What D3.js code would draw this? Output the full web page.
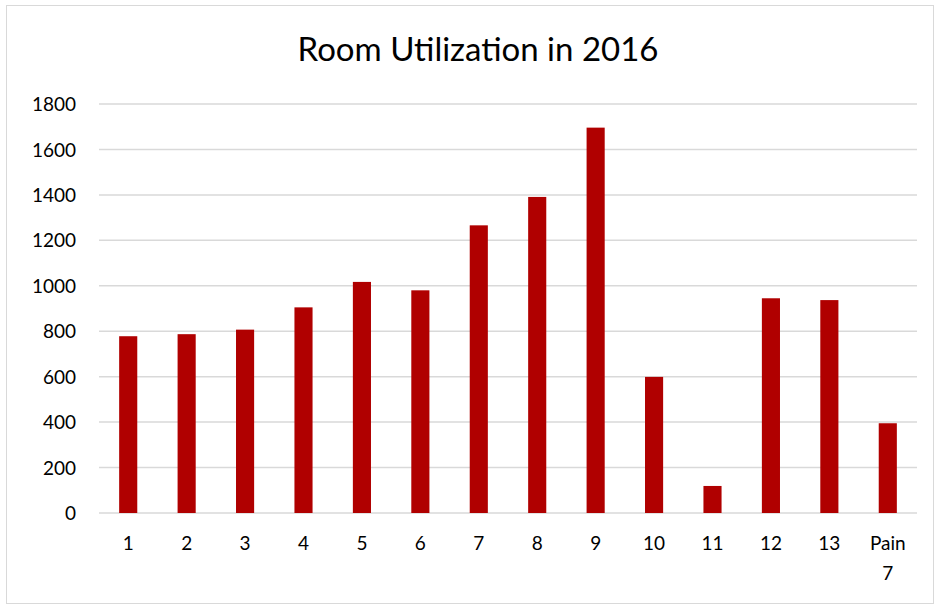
<!DOCTYPE html>
<html lang="en">
<head>
    <meta charset="UTF-8">
    <title>Room Utilization in 2016</title>
    <script src="https://d3js.org/d3.v7.min.js"></script>
    <style>
        body { margin: 0; background: #fff; }
        text { font-family: Lato, "Open Sans", sans-serif; fill: #000; }
    </style>
</head>
<body>
    <script>
       // Chart data
       var rooms = ["1", "2", "3", "4", "5", "6", "7", "8", "9", "10", "11", "12", "13", "Pain 7"];
       var usage = [778, 787, 807, 905, 1017, 980, 1266, 1391, 1696, 599, 119, 945, 937, 395];
       var yTicks = [0, 200, 400, 600, 800, 1000, 1200, 1400, 1600, 1800];

       var data = rooms.map(function(r, i) { return {room: r, value: usage[i]}; });

       var W = 935, H = 605;
       var margin = {top: 104, right: 18, bottom: 92, left: 99},
           width = W - margin.left - margin.right,
           height = H - margin.top - margin.bottom;

       var svg = d3.select("body").append("svg")
           .attr("width", W)
           .attr("height", H);

       // chart border
       svg.append("rect")
           .attr("x", 6.5).attr("y", 5.5)
           .attr("width", 927).attr("height", 598)
           .attr("fill", "none")
           .attr("stroke", "#d9d9d9")
           .attr("stroke-width", 1);

       // Title
       svg.append("text")
           .attr("x", 478)
           .attr("y", 61)
           .attr("text-anchor", "middle")
           .style("font-size", "33px")
           .text("Room Utilization in 2016");

       var g = svg.append("g")
           .attr("transform", "translate(" + margin.left + "," + margin.top + ")");

       var x = d3.scaleBand().domain(rooms).range([0, width]).paddingInner(0.69).paddingOuter(0.345);
       var y = d3.scaleLinear().domain([0, 1800]).range([height, 0]);

       // Gridlines
       g.append("g")
           .selectAll("line")
           .data(yTicks)
           .enter().append("line")
           .attr("x1", 0).attr("x2", width)
           .attr("y1", function(d) { return y(d); })
           .attr("y2", function(d) { return y(d); })
           .attr("stroke", "#d9d9d9")
           .attr("stroke-width", 1.5);

       // Bars
       g.selectAll(".bar")
           .data(data)
           .enter().append("rect")
           .attr("class", "bar")
           .attr("x", function(d) { return x(d.room); })
           .attr("y", function(d) { return y(d.value); })
           .attr("width", x.bandwidth())
           .attr("height", function(d) { return height - y(d.value); })
           .attr("fill", "#b00000");

       // Y axis
       var yAxis = g.append("g")
           .call(d3.axisLeft(y).tickValues(yTicks).tickFormat(d3.format("d")).tickSize(0).tickPadding(23));
       yAxis.select(".domain").remove();
       yAxis.selectAll("text")
           .style("font-family", "Lato, 'Open Sans', sans-serif")
           .style("font-size", "19px")
           .attr("dy", "0.35em");

       // X axis
       var xAxis = g.append("g")
           .attr("transform", "translate(0," + height + ")")
           .call(d3.axisBottom(x).tickSize(0).tickPadding(24));
       xAxis.select(".domain").remove();
       xAxis.selectAll("text")
           .style("font-family", "Lato, 'Open Sans', sans-serif")
           .style("font-size", "19px")
           .each(function(d) {
               var t = d3.select(this);
               var parts = d.split(" ");
               if (parts.length > 1) {
                   t.text(null);
                   parts.forEach(function(p, i) {
                       t.append("tspan")
                           .attr("x", 0)
                           .attr("dy", i === 0 ? "0.71em" : "1.55em")
                           .text(p);
                   });
               }
           });
    </script>
</body>
</html>
